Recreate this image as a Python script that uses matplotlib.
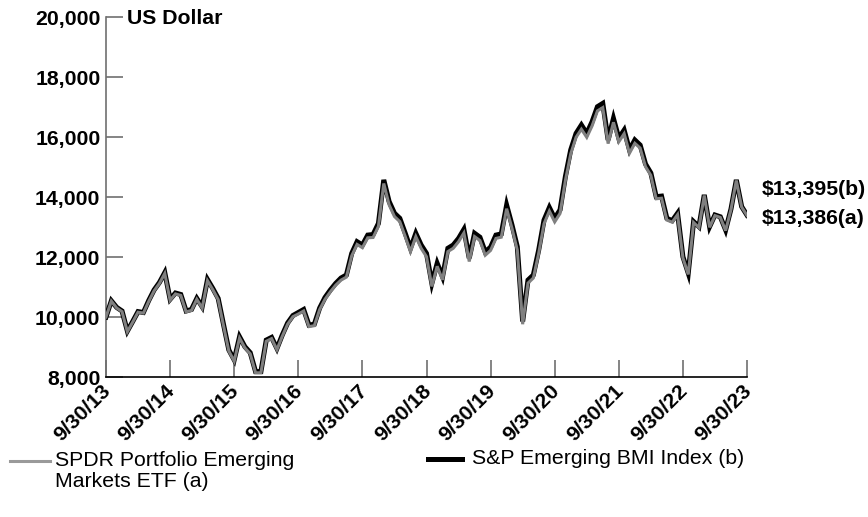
import numpy as np
import matplotlib.pyplot as plt
import matplotlib.transforms as mtransforms
from matplotlib.lines import Line2D

plt.rcParams['font.family'] = ['Liberation Sans', 'DejaVu Sans']

# Month-end growth of $10,000, 9/30/13 through 9/30/23
index_b = [
    10000, 10540, 10320, 10200, 9530, 9850, 10180, 10150, 10550, 10900,
    11150, 11480, 10590, 10800, 10750, 10200, 10250, 10620, 10340, 11250,
    10950, 10620, 9750, 8900, 8570, 9340, 9010, 8810, 8180, 8180,
    9230, 9320, 8950, 9400, 9800, 10050, 10150, 10250, 9730, 9760,
    10300, 10650, 10900, 11120, 11300, 11400, 12120, 12510, 12400, 12730,
    12750, 13120, 14570, 13850, 13460, 13290, 12800, 12290, 12790, 12400,
    12120, 11120, 11790, 11340, 12290, 12400, 12620, 12920, 11960, 12790,
    12660, 12170, 12330, 12730, 12770, 13730, 13070, 12340, 9850, 11230,
    11400, 12230, 13230, 13650, 13290, 13570, 14680, 15570, 16120, 16400,
    16120, 16510, 17010, 17120, 15900, 16620, 15960, 16230, 15570, 15900,
    15730, 15100, 14800, 14010, 14030, 13290, 13210, 13460, 12010, 11460,
    13180, 13010, 14070, 13010, 13400, 13340, 12900, 13600, 14570, 13680,
    13395,
]
etf_a = [
    10000, 10530, 10300, 10180, 9510, 9830, 10160, 10130, 10520, 10870,
    11120, 11450, 10560, 10770, 10720, 10170, 10220, 10590, 10300, 11210,
    10910, 10580, 9710, 8860, 8530, 9300, 8970, 8770, 8140, 8140,
    9190, 9280, 8910, 9360, 9760, 10010, 10100, 10200, 9680, 9710,
    10250, 10590, 10840, 11060, 11230, 11330, 12040, 12420, 12310, 12640,
    12650, 13020, 14450, 13740, 13350, 13180, 12690, 12180, 12680, 12290,
    12010, 11020, 11690, 11240, 12180, 12290, 12510, 12800, 11850, 12680,
    12550, 12060, 12220, 12620, 12660, 13610, 12960, 12230, 9760, 11130,
    11300, 12120, 13110, 13530, 13170, 13450, 14550, 15440, 15990, 16260,
    15990, 16370, 16870, 16980, 15780, 16490, 15840, 16110, 15460, 15790,
    15630, 15010, 14720, 13940, 13960, 13230, 13160, 13410, 11970, 11420,
    13150, 12980, 14050, 12990, 13380, 13320, 12880, 13580, 14550, 13665,
    13386,
]
months = np.arange(len(index_b))

tick_months = [0, 12, 24, 36, 48, 60, 72, 84, 96, 108, 120]
tick_labels = ['9/30/13', '9/30/14', '9/30/15', '9/30/16', '9/30/17', '9/30/18',
               '9/30/19', '9/30/20', '9/30/21', '9/30/22', '9/30/23']
y_ticks = [8000, 10000, 12000, 14000, 16000, 18000, 20000]

label_a = 'SPDR Portfolio Emerging\nMarkets ETF (a)'
label_b = 'S&P Emerging BMI Index (b)'
end_a = '$13,386(a)'
end_b = '$13,395(b)'

FS = 15.3
W, H = 868, 517

fig = plt.figure(figsize=(W / 100, H / 100), dpi=100)
ax = fig.add_axes([106 / W, 1 - 377 / H, 641 / W, 360 / H])

ax.plot(months, index_b, color='black', lw=3.6, solid_joinstyle='miter', zorder=3)
ax.plot(months, etf_a, color='#808080', lw=2.2, solid_joinstyle='miter', zorder=4)

ax.set_xlim(0, 120)
ax.set_ylim(8000, 20000)
ax.set_yticks(y_ticks, [f'{v:,}' for v in y_ticks], fontsize=FS, fontweight='bold')
ax.set_xticks(tick_months, tick_labels, fontsize=FS, fontweight='bold',
              rotation=45, ha='right', rotation_mode='anchor')
ax.tick_params(axis='both', direction='in', length=12, width=1.2, color='#707070')
ax.tick_params(axis='y', pad=4)
ax.tick_params(axis='x', pad=3)

# nudge the slanted date labels left so they end at their ticks
shift = mtransforms.ScaledTranslation(-5 / 100, 0, fig.dpi_scale_trans)
for lbl in ax.get_xticklabels():
    lbl.set_transform(lbl.get_transform() + shift)

for side in ('top', 'right'):
    ax.spines[side].set_visible(False)
ax.spines['left'].set_color('#707070')
ax.spines['left'].set_linewidth(1.2)
ax.spines['bottom'].set_color('black')
ax.spines['bottom'].set_linewidth(1.2)

ax.text(127 / W, 1 - 18 / H, 'US Dollar', transform=fig.transFigure,
        fontsize=FS, fontweight='bold', va='center', ha='left')

ax.annotate(end_b, xy=(months[-1], index_b[-1]), xytext=(15, 26),
            textcoords='offset pixels', fontsize=FS, fontweight='bold',
            va='center', ha='left', annotation_clip=False)
ax.annotate(end_a, xy=(months[-1], etf_a[-1]), xytext=(15, -3),
            textcoords='offset pixels', fontsize=FS, fontweight='bold',
            va='center', ha='left', annotation_clip=False)

# legend keys and labels
fig.add_artist(Line2D([10 / W, 50 / W], [1 - 461 / H] * 2, color='#9a9a9a', lw=2.2))
fig.text(55 / W, 1 - 451 / H, label_a, fontsize=FS, va='top', ha='left', linespacing=1.15)
fig.add_artist(Line2D([428 / W, 462 / W], [1 - 459 / H] * 2, color='black', lw=3.6))
fig.text(472 / W, 1 - 459 / H, label_b, fontsize=FS, va='center', ha='left')

fig.savefig('out.png', dpi=100)
